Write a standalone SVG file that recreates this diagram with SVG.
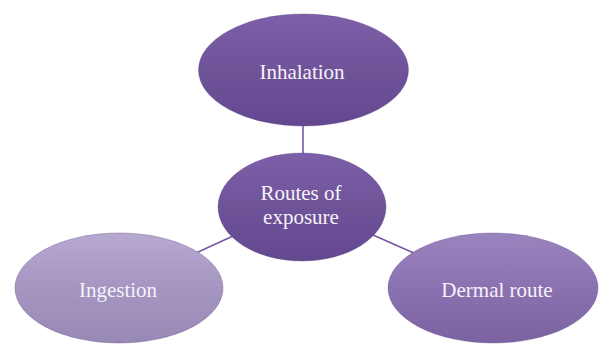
<svg xmlns="http://www.w3.org/2000/svg" width="600" height="344" viewBox="0 0 600 344">
<defs>
<linearGradient id="gDark" x1="0" y1="0" x2="0" y2="1">
<stop offset="0" stop-color="#7c5fa8"/>
<stop offset="0.5" stop-color="#6f5399"/>
<stop offset="1" stop-color="#634890"/>
</linearGradient>
<linearGradient id="gLight" x1="0" y1="0" x2="0" y2="1">
<stop offset="0" stop-color="#b7a9d0"/>
<stop offset="0.5" stop-color="#a596c1"/>
<stop offset="1" stop-color="#9788b5"/>
</linearGradient>
<linearGradient id="gMid" x1="0" y1="0" x2="0" y2="1">
<stop offset="0" stop-color="#9a84be"/>
<stop offset="0.5" stop-color="#8a72b0"/>
<stop offset="1" stop-color="#7b63a3"/>
</linearGradient>
</defs>
<style>
.lbl{font-family:"Liberation Serif","DejaVu Serif",serif;font-size:21px;fill:#f6f2fa;text-anchor:middle}
.edge{stroke:#7758a6;stroke-width:1.6;fill:none}
.rim{stroke:#5a4285;stroke-opacity:0.35;stroke-width:1}
</style>
<g id="connectors">
<line class="edge" x1="303" y1="125" x2="303" y2="154"/>
<line class="edge" x1="233" y1="236" x2="196" y2="253"/>
<line class="edge" x1="373" y1="235" x2="416" y2="254"/>
</g>
<g id="inhalation">
<ellipse cx="303.5" cy="70" rx="105" ry="56" fill="url(#gDark)" class="rim"/>
<text class="lbl" x="302" y="79">Inhalation</text>
</g>
<g id="routes">
<ellipse cx="302" cy="207" rx="84" ry="54" fill="url(#gDark)" class="rim"/>
<text class="lbl" x="301" y="200">Routes of</text>
<text class="lbl" x="301" y="224">exposure</text>
</g>
<g id="ingestion">
<ellipse cx="119" cy="288" rx="104" ry="55" fill="url(#gLight)" class="rim"/>
<text class="lbl" x="118" y="297">Ingestion</text>
</g>
<g id="dermal">
<ellipse cx="493" cy="288" rx="105" ry="55" fill="url(#gMid)" class="rim"/>
<text class="lbl" x="497" y="297">Dermal route</text>
</g>
</svg>
